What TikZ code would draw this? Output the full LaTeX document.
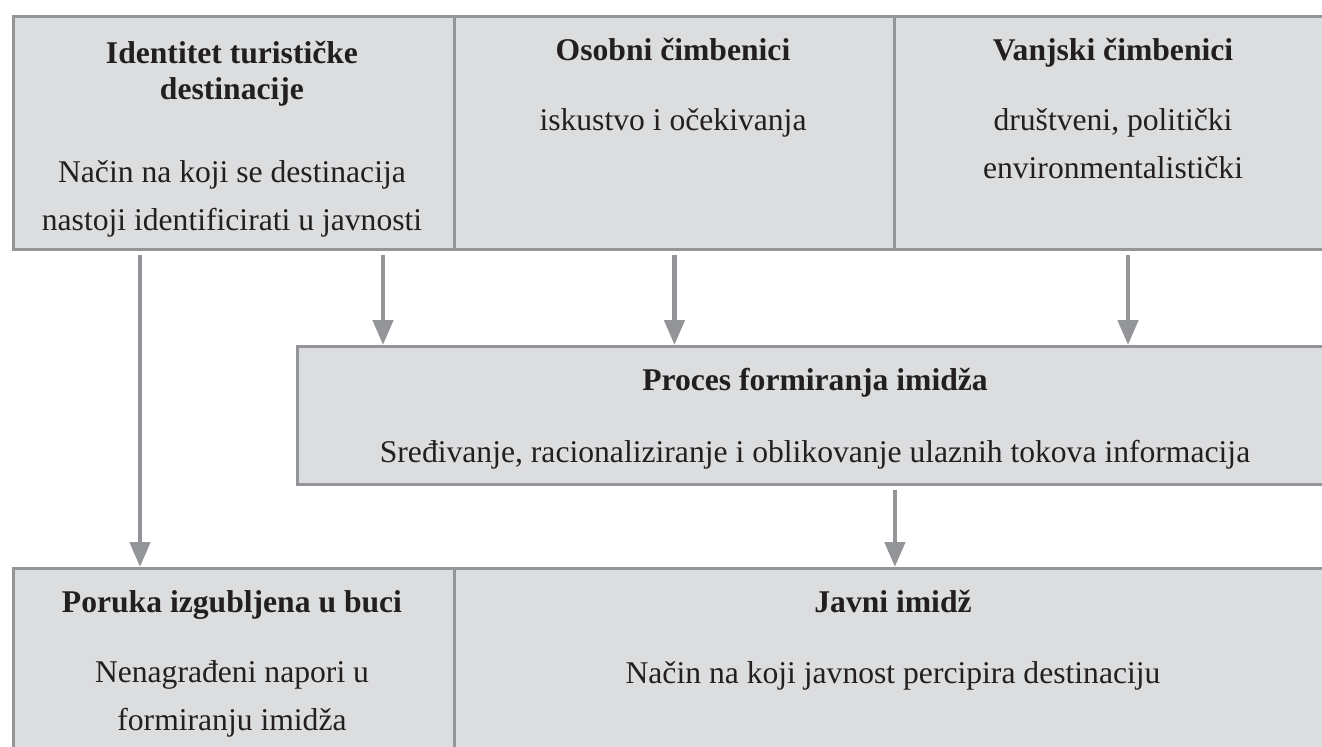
\documentclass[tikz,border=0pt]{standalone}
\usepackage{fontspec}
\setmainfont{Liberation Serif}
\usepackage{xcolor}
\usepackage{tikz}
\usetikzlibrary{arrows.meta}
\definecolor{boxfill}{HTML}{DCDDDF}
\definecolor{boxline}{HTML}{939598}
\definecolor{inkdark}{HTML}{231F20}
\newcommand{\boxlines}[1]{\parbox[t]{8.6cm}{\centering #1}}

\begin{document}
\begin{tikzpicture}[x=0.02cm, y=-0.02cm, >={Triangle[length=5mm, width=4mm]},
    panel/.style={draw=boxline, fill=boxfill, line width=1.7pt, anchor=north west, inner sep=0mm},
    ttl/.style={anchor=base, inner sep=0mm, text=inkdark, font=\fontsize{18}{21}\selectfont\bfseries},
    txt/.style={anchor=base, inner sep=0mm, text=inkdark, font=\fontsize{18}{27.5}\selectfont},
    flow/.style={->, draw=boxline, fill=boxline, line width=2.6pt, shorten <=0.8mm}]
    \useasboundingbox (0,0) rectangle (1322,747);
    \clip (0,0) rectangle (1322,747);
    % top row
    \node[panel, minimum width=8.82cm, minimum height=4.66cm] (idn) at (12,15) {};
    \node[panel, minimum width=8.8cm, minimum height=4.66cm] (osob) at (453,15) {};
    \node[panel, minimum width=8.82cm, minimum height=4.66cm] (vanj) at (893,15) {};
    % middle
    \node[panel, minimum width=20.76cm, minimum height=2.76cm] (proc) at (296,345) {};
    % bottom row
    \node[panel, minimum width=8.82cm, minimum height=4.8cm] (lost) at (12,567) {};
    \node[panel, minimum width=17.62cm, minimum height=4.8cm] (javni) at (453,567) {};

    \node[ttl] (idnT) at (232,63) {\boxlines{Identitet turističke\\destinacije}};
    \node[txt] (idnB) at (232,182) {\boxlines{Način na koji se destinacija\\nastoji identificirati u javnosti}};
    \node[ttl] (osobT) at (673,60) {Osobni čimbenici};
    \node[txt] (osobB) at (673,130) {iskustvo i očekivanja};
    \node[ttl] (vanjT) at (1113,60) {Vanjski čimbenici};
    \node[txt] (vanjB) at (1113,130) {\boxlines{društveni, politički\\environmentalistički}};
    \node[ttl] (procT) at (815,390) {Proces formiranja imidža};
    \node[txt] (procB) at (815,462) {Sređivanje, racionaliziranje i oblikovanje ulaznih tokova informacija};
    \node[ttl] (lostT) at (232,612) {Poruka izgubljena u buci};
    \node[txt] (lostB) at (232,682) {\boxlines{Nenagrađeni napori u\\formiranju imidža}};
    \node[ttl] (javT) at (893,612) {Javni imidž};
    \node[txt] (javB) at (893,683) {Način na koji javnost percipira destinaciju};

    % arrows
    \coordinate (lane1) at (140,0);
    \coordinate (lane2) at (383,0);
    \coordinate (lane3) at (1128,0);
    \draw[flow] (idn.south -| lane1) -- (lost.north -| lane1);
    \draw[flow] (idn.south -| lane2) -- (proc.north -| lane2);
    \draw[flow] (osob.south) -- (proc.north -| osob.south);
    \draw[flow] (vanj.south -| lane3) -- (proc.north -| lane3);
    \draw[flow] (proc.south -| javni.north) -- (javni.north);
\end{tikzpicture}
\end{document}
